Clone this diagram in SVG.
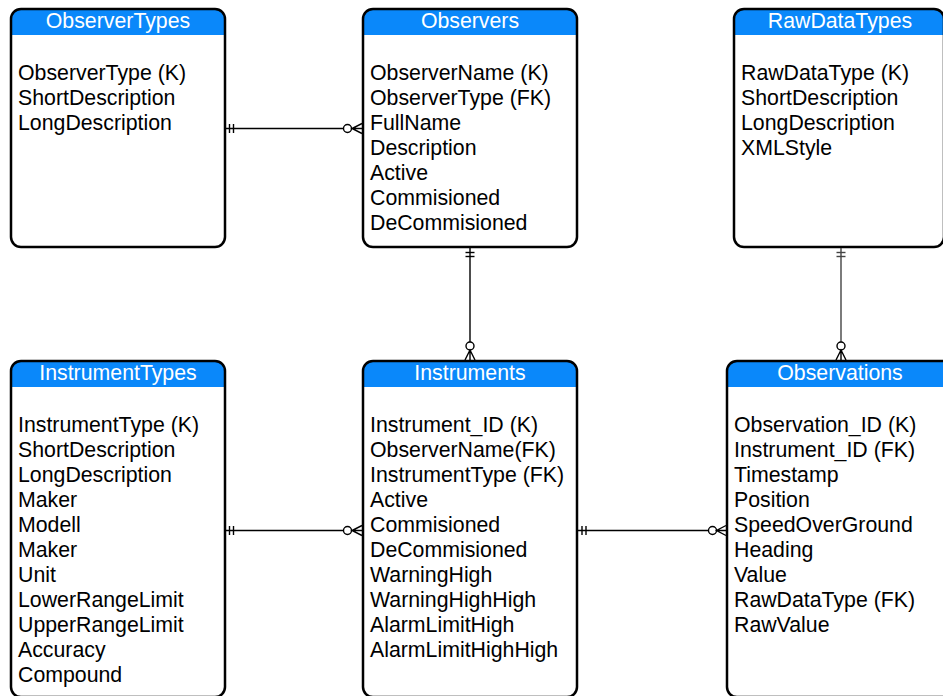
<svg xmlns="http://www.w3.org/2000/svg" width="943" height="696" viewBox="0 0 943 696">
<style>
.box{fill:#fff;stroke:none}
.border{fill:none;stroke:#000;stroke-width:2.5}
.hdr{fill:#0a88fa}
.ht{font-family:"Liberation Sans",Arial,sans-serif;font-size:21.3px;fill:#fff;text-anchor:middle}
.ft{font-family:"Liberation Sans",Arial,sans-serif;font-size:21.3px;fill:#000}
.conn line{stroke:#000;stroke-width:1.4;fill:none}
.conn circle{stroke:#000;stroke-width:1.4;fill:#fff}
.conn path{stroke:#000;stroke-width:1.4;fill:none}
</style>
<rect width="943" height="696" fill="#fff"/>

<g id="ObserverTypes">
<rect class="box" x="11" y="9" width="214" height="238" rx="10"/>
<path class="hdr" d="M11,35 V19 A10,10 0 0 1 21,9 H215 A10,10 0 0 1 225,19 V35 Z"/>
<rect class="border" x="11" y="9" width="214" height="238" rx="10"/>
<text class="ht" x="118" y="27.5">ObserverTypes</text>
<text class="ft" x="18" y="79.5">ObserverType (K)</text>
<text class="ft" x="18" y="104.5">ShortDescription</text>
<text class="ft" x="18" y="129.5">LongDescription</text>
</g>

<g id="Observers">
<rect class="box" x="363" y="9" width="214" height="238" rx="10"/>
<path class="hdr" d="M363,35 V19 A10,10 0 0 1 373,9 H567 A10,10 0 0 1 577,19 V35 Z"/>
<rect class="border" x="363" y="9" width="214" height="238" rx="10"/>
<text class="ht" x="470" y="27.5">Observers</text>
<text class="ft" x="370" y="79.5">ObserverName (K)</text>
<text class="ft" x="370" y="104.5">ObserverType (FK)</text>
<text class="ft" x="370" y="129.5">FullName</text>
<text class="ft" x="370" y="154.5">Description</text>
<text class="ft" x="370" y="179.5">Active</text>
<text class="ft" x="370" y="204.5">Commisioned</text>
<text class="ft" x="370" y="229.5">DeCommisioned</text>
</g>

<g id="RawDataTypes">
<rect class="box" x="734" y="9" width="210" height="238" rx="10"/>
<path class="hdr" d="M734,35 V19 A10,10 0 0 1 744,9 H934 A10,10 0 0 1 944,19 V35 Z"/>
<rect class="border" x="734" y="9" width="210" height="238" rx="10"/>
<text class="ht" x="840" y="27.5">RawDataTypes</text>
<text class="ft" x="741" y="79.5">RawDataType (K)</text>
<text class="ft" x="741" y="104.5">ShortDescription</text>
<text class="ft" x="741" y="129.5">LongDescription</text>
<text class="ft" x="741" y="154.5">XMLStyle</text>
</g>

<g id="InstrumentTypes">
<rect class="box" x="11" y="361" width="214" height="336" rx="10"/>
<path class="hdr" d="M11,387 V371 A10,10 0 0 1 21,361 H215 A10,10 0 0 1 225,371 V387 Z"/>
<rect class="border" x="11" y="361" width="214" height="336" rx="10"/>
<text class="ht" x="118" y="380">InstrumentTypes</text>
<text class="ft" x="18" y="431.5">InstrumentType (K)</text>
<text class="ft" x="18" y="456.5">ShortDescription</text>
<text class="ft" x="18" y="481.5">LongDescription</text>
<text class="ft" x="18" y="506.5">Maker</text>
<text class="ft" x="18" y="531.5">Modell</text>
<text class="ft" x="18" y="556.5">Maker</text>
<text class="ft" x="18" y="581.5">Unit</text>
<text class="ft" x="18" y="606.5">LowerRangeLimit</text>
<text class="ft" x="18" y="631.5">UpperRangeLimit</text>
<text class="ft" x="18" y="656.5">Accuracy</text>
<text class="ft" x="18" y="681.5">Compound</text>
</g>

<g id="Instruments">
<rect class="box" x="363" y="361" width="214" height="336" rx="10"/>
<path class="hdr" d="M363,387 V371 A10,10 0 0 1 373,361 H567 A10,10 0 0 1 577,371 V387 Z"/>
<rect class="border" x="363" y="361" width="214" height="336" rx="10"/>
<text class="ht" x="470" y="380">Instruments</text>
<text class="ft" x="370" y="431.5">Instrument_ID (K)</text>
<text class="ft" x="370" y="456.5">ObserverName(FK)</text>
<text class="ft" x="370" y="481.5">InstrumentType (FK)</text>
<text class="ft" x="370" y="506.5">Active</text>
<text class="ft" x="370" y="531.5">Commisioned</text>
<text class="ft" x="370" y="556.5">DeCommisioned</text>
<text class="ft" x="370" y="581.5">WarningHigh</text>
<text class="ft" x="370" y="606.5">WarningHighHigh</text>
<text class="ft" x="370" y="631.5">AlarmLimitHigh</text>
<text class="ft" x="370" y="656.5">AlarmLimitHighHigh</text>
</g>

<g id="Observations">
<rect class="box" x="727" y="361" width="226" height="336" rx="10"/>
<path class="hdr" d="M727,387 V371 A10,10 0 0 1 737,361 H943 A10,10 0 0 1 953,371 V387 Z"/>
<rect class="border" x="727" y="361" width="226" height="336" rx="10"/>
<text class="ht" x="840" y="380">Observations</text>
<text class="ft" x="734" y="431.5">Observation_ID (K)</text>
<text class="ft" x="734" y="456.5">Instrument_ID (FK)</text>
<text class="ft" x="734" y="481.5">Timestamp</text>
<text class="ft" x="734" y="506.5">Position</text>
<text class="ft" x="734" y="531.5">SpeedOverGround</text>
<text class="ft" x="734" y="556.5">Heading</text>
<text class="ft" x="734" y="581.5">Value</text>
<text class="ft" x="734" y="606.5">RawDataType (FK)</text>
<text class="ft" x="734" y="631.5">RawValue</text>
</g>

<g id="connectors" class="conn">
<line x1="226" y1="128.5" x2="343.5" y2="128.5"/>
<line x1="229.5" y1="124" x2="229.5" y2="133"/>
<line x1="233.5" y1="124" x2="233.5" y2="133"/>
<circle cx="347.5" cy="128.5" r="4"/>
<path d="M362,123.5 L352,128.5 L362,133.5 M351.5,128.5 H362"/>

<line x1="470" y1="248" x2="470" y2="342"/>
<line x1="465.5" y1="252.5" x2="474.5" y2="252.5"/>
<line x1="465.5" y1="256.5" x2="474.5" y2="256.5"/>
<circle cx="470" cy="346" r="4"/>
<path d="M465,360 L470,350 L475,360 M470,350 V360"/>

<line x1="841" y1="248" x2="841" y2="342" style="stroke:#444"/>
<line x1="836.5" y1="252.5" x2="845.5" y2="252.5" style="stroke:#444"/>
<line x1="836.5" y1="256.5" x2="845.5" y2="256.5" style="stroke:#444"/>
<circle cx="841" cy="346" r="4"/>
<path d="M836,360 L841,350 L846,360 M841,350 V360"/>

<line x1="226" y1="530.5" x2="343.5" y2="530.5"/>
<line x1="229.5" y1="526" x2="229.5" y2="535"/>
<line x1="233.5" y1="526" x2="233.5" y2="535"/>
<circle cx="347.5" cy="530.5" r="4"/>
<path d="M362,525.5 L352,530.5 L362,535.5 M351.5,530.5 H362"/>

<line x1="578" y1="530.5" x2="708.5" y2="530.5"/>
<line x1="582" y1="526" x2="582" y2="535"/>
<line x1="586" y1="526" x2="586" y2="535"/>
<circle cx="712.5" cy="530.5" r="4"/>
<path d="M726,525.5 L716.5,530.5 L726,535.5 M716.5,530.5 H726"/>
</g>
</svg>
